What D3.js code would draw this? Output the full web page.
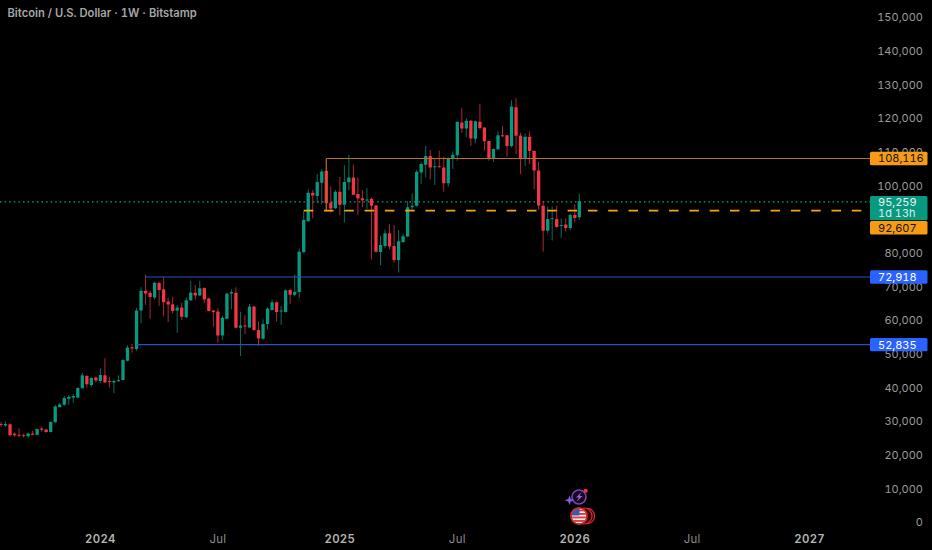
<!DOCTYPE html>
<html><head><meta charset="utf-8">
<script src="https://cdnjs.cloudflare.com/ajax/libs/d3/7.8.5/d3.min.js"></script>
<style>
html,body{margin:0;padding:0;background:#000;overflow:hidden}
svg{display:block}
text{font-family:Inter,"Noto Sans",sans-serif;font-variant-numeric:tabular-nums}
</style></head><body><svg id="c" width="932" height="550"></svg>
<script>
const firstWeek = "2023-07-31";
const lastWeek = "2026-01-12";
const opens = [29.1,28.7,29.0,26.2,25.9,25.8,25.5,26.3,25.9,27.8,27.5,26.7,29.6,34.1,34.8,36.6,37.0,37.0,39.7,43.4,40.7,42.9,41.9,43.6,41.9,41.4,41.8,42.2,47.9,51.9,
51.4,62.8,68.7,68.1,66.7,71.0,69.1,65.5,64.7,62.8,63.7,60.8,65.9,68.1,67.3,69.5,66.4,62.8,62.5,55.4,60.4,67.9,68.1,57.7,58.4,57.8,64.0,57.0,54.4,58.8,63.0,65.3,62.6,62.4,68.9,67.5,
68.3,80.1,89.3,97.8,96.8,100.8,104.3,94.9,93.2,98.1,94.2,100.9,102.3,97.4,96.2,95.6,96.0,94.0,80.2,82.0,85.8,82.0,77.8,83.2,84.8,93.5,
93.9,103.8,106.1,108.7,105.5,105.7,105.3,100.6,107.9,108.9,118.7,116.9,119.2,113.8,118.9,117.2,113.2,108.0,110.7,114.9,114.9,111.7,123.2,114.8,108.1,114.4,110.3,104.4,93.9,86.5,90.0,90.0,88.0,88.4,87.3,91.2,90.5];
const highs = [29.7,29.9,29.3,26.6,27.8,26.3,26.6,27.1,27.8,28.3,27.7,29.9,34.8,35.4,37.4,37.7,38.0,40.0,44.4,43.6,43.0,43.2,45.6,48.6,43.2,42.4,43.6,48.3,52.5,52.9,
63.5,69.7,73.5,68.7,71.4,71.4,72.7,66.7,66.9,64.5,65.1,66.6,71.7,70.4,71.7,69.7,66.6,62.8,63.5,61.2,67.9,69.1,69.7,62.5,61.5,64.8,64.2,59.6,60.2,63.8,66.1,65.5,64.2,69.1,69.3,73.5,
81.3,92.2,98.8,98.6,103.4,104.8,107.9,99.6,98.6,102.4,106.0,109.1,106.1,102.4,98.6,99.2,96.4,94.2,85.0,86.9,88.5,88.2,86.7,85.7,95.4,97.6,
104.6,107.0,111.7,110.5,108.0,110.3,108.5,108.3,110.1,118.9,122.9,119.9,119.4,119.2,124.2,117.2,113.2,111.0,116.2,117.6,114.9,125.3,125.9,115.6,115.4,116.0,110.3,107.0,95.4,93.7,93.7,93.9,90.2,90.2,91.5,94.4,97.6];
const lows = [28.3,28.3,25.5,25.3,25.1,25.1,24.8,25.8,25.8,26.8,26.5,26.6,29.5,34.1,34.5,34.8,35.4,36.7,39.6,39.9,40.2,41.4,41.2,41.2,40.0,38.2,41.7,42.1,47.7,50.3,
50.9,59.0,64.5,60.4,66.1,64.2,61.2,59.4,62.0,56.2,60.0,60.5,65.7,66.1,67.1,65.0,62.5,58.0,53.3,54.1,60.2,63.2,57.5,49.3,55.8,57.6,56.8,52.3,54.3,57.2,62.8,59.6,58.5,62.2,64.8,67.1,
66.5,80.0,89.2,90.2,94.7,94.4,92.2,91.9,92.9,91.1,88.9,98.6,97.0,91.3,93.5,92.9,78.0,80.0,76.3,81.3,81.0,77.0,74.1,82.8,84.6,92.7,
93.7,100.4,102.4,101.8,100.1,105.3,98.1,99.6,104.9,107.3,115.6,114.3,111.7,112.5,116.6,110.3,107.3,107.0,110.5,114.3,108.5,111.3,109.3,103.4,105.7,106.3,98.8,92.7,80.3,85.7,83.6,87.4,84.3,86.3,86.7,89.0,89.7];
const closes = [28.9,29.1,25.8,25.8,25.6,25.6,26.3,25.9,27.6,27.4,26.7,29.7,34.3,34.9,36.8,37.2,37.4,39.8,43.6,40.9,42.8,42.0,43.7,41.4,41.6,41.9,42.2,48.1,51.8,51.5,
62.8,68.7,67.9,66.8,71.1,68.9,65.3,64.6,62.7,63.7,61.0,65.9,68.2,67.3,69.4,66.1,62.7,62.4,55.4,60.7,67.9,68.3,57.7,58.4,58.2,64.0,57.0,54.5,58.8,63.4,65.3,62.4,62.8,68.8,67.5,68.3,
80.3,89.7,97.8,97.0,101.0,104.1,94.7,93.1,98.1,94.2,101.0,102.3,97.2,96.1,95.6,95.8,93.9,80.3,82.3,85.8,81.8,77.8,83.4,84.9,93.5,93.9,
104.0,106.3,108.7,105.3,105.7,105.5,100.6,108.1,109.1,118.9,116.9,119.2,113.9,119.0,117.0,113.1,108.0,110.8,114.9,114.8,111.7,123.4,114.7,108.0,114.4,110.2,104.4,94.0,86.5,90.0,90.2,87.6,88.2,87.3,91.2,90.3,95.259];

const priceTicks = [0,10,20,30,40,50,60,70,80,100,110,120,130,140,150];
const timeTickDates = ["2024-01-01","2024-07-01","2025-01-06","2025-07-07","2026-01-05","2026-07-06","2027-01-04"];
const timeTickLabels = ["2024","Jul","2025","Jul","2026","Jul","2027"];
const timeTickMajor = [true,false,true,false,true,false,true];
const levelValues = [108.116,92.607,72.918,52.835];
const levelLabels = ["108,116","92,607","72,918","52,835"];
const levelStartIdx = [72,67,32,30];
const boxStartValue = 92.607;
const lastPrice = 95.259;
const lastPriceLabel = "95,259";
const countdown = "1d 13h";
const title = "Bitcoin / U.S. Dollar · 1W · Bitstamp";

const plotRight=871;
const parse=d3.utcParse("%Y-%m-%d");
const x=d3.scaleUtc().domain([parse(firstWeek),parse(lastWeek)]).range([1,579.3]);
const y=d3.scaleLinear().domain([0,150]).range([522,17]);
const dateAt=i=>d3.utcWeek.offset(parse(firstWeek),i);
const fmt=d3.format(",");
const BULL="#089981",BEAR="#f23645",ORANGE="#b9701f",DASH="#f7a21b",BLUE="#2a52be",BOX_O="#f79a14",BOX_B="#2962ff";

const svg=d3.select("#c");
const cw=3.3;

const tickColor="#9a9a9a";
svg.append("g").selectAll("text").data(priceTicks).join("text")
 .attr("x",923).attr("y",d=>y(d)+4.4).attr("text-anchor","end")
 .attr("font-size",11).attr("fill",tickColor)
 .text(d=>fmt(d*1000));

svg.append("g").selectAll("text").data(timeTickDates).join("text")
 .attr("x",d=>x(parse(d))).attr("y",543).attr("text-anchor","middle")
 .attr("font-size",11.4).attr("letter-spacing",0.3)
 .attr("font-weight",(d,i)=>timeTickMajor[i]?600:400)
 .attr("fill",(d,i)=>timeTickMajor[i]?"#b4b4b4":"#8c8c8c")
 .text((d,i)=>timeTickLabels[i]);

svg.append("line").attr("x1",0).attr("x2",plotRight).attr("y1",y(lastPrice)+.6).attr("y2",y(lastPrice)+.6)
 .attr("stroke","#12a88d").attr("stroke-width",1.3).attr("stroke-dasharray","1.5 3.1");

const idx=d3.range(opens.length);
const col=i=>closes[i]>=opens[i]?BULL:BEAR;
const g=svg.append("g");
g.selectAll("line").data(idx).join("line")
 .attr("x1",i=>x(dateAt(i))).attr("x2",i=>x(dateAt(i)))
 .attr("y1",i=>y(highs[i])).attr("y2",i=>y(lows[i]))
 .attr("stroke",col).attr("stroke-opacity",.72).attr("stroke-width",1);
g.selectAll("rect").data(idx).join("rect")
 .attr("x",i=>x(dateAt(i))-cw/2).attr("width",cw)
 .attr("y",i=>y(Math.max(opens[i],closes[i])))
 .attr("height",i=>Math.max(1,Math.abs(y(opens[i])-y(closes[i]))))
 .attr("rx",.5).attr("fill",col);

const lineColors=[ORANGE,DASH,BLUE,BLUE];
svg.append("g").selectAll("line").data(levelValues).join("line")
 .attr("x1",(d,i)=>x(dateAt(levelStartIdx[i]))).attr("x2",plotRight)
 .attr("y1",d=>y(d)+.5).attr("y2",d=>y(d)+.5)
 .attr("stroke",(d,i)=>lineColors[i])
 .attr("stroke-width",(d,i)=>i==1?1.8:1.2)
 .attr("stroke-dasharray",(d,i)=>i==1?"9.5 10.8":null);
svg.append("line").attr("x1",x(dateAt(levelStartIdx[0]))).attr("x2",x(dateAt(levelStartIdx[0])))
 .attr("y1",y(levelValues[0])+.5).attr("y2",y(boxStartValue))
 .attr("stroke",ORANGE).attr("stroke-width",1);

const boxX=870,boxW=57.5,boxH=13.4,textX=878;
const labelFill=[BOX_O,BOX_O,BOX_B,BOX_B], labelText=["#141414","#141414","#fff","#fff"];
svg.append("rect").attr("x",boxX).attr("width",boxW).attr("y",y(lastPrice)-5.3).attr("height",24.3).attr("rx",1.5).attr("fill",BULL);
svg.append("text").attr("x",textX).attr("y",y(lastPrice)+4.4).attr("font-size",11).attr("fill","#e8f6f2").text(lastPriceLabel);
svg.append("text").attr("x",textX).attr("y",y(lastPrice)+16).attr("font-size",11).attr("fill","#d5efe8").text(countdown);
const lab=svg.append("g").selectAll("g").data(levelValues).join("g").attr("transform",(d,i)=>`translate(${boxX},${y(d)+(i==1?10.8:-6.2)})`);
lab.append("rect").attr("width",boxW).attr("height",boxH).attr("rx",1.5).attr("fill",(d,i)=>labelFill[i]);
lab.append("text").attr("x",textX-boxX).attr("y",10.6).attr("font-size",11)
 .attr("fill",(d,i)=>labelText[i]).text((d,i)=>levelLabels[i]);

svg.append("text").attr("x",7.5).attr("y",17).attr("font-size",11.2).attr("font-weight",600).attr("fill","#a6a6a6").text(title);

const ic=svg.append("g");
const ix=579,iy1=497;
ic.append("circle").attr("cx",ix).attr("cy",iy1).attr("r",7).attr("fill","#150a22").attr("stroke","#7a45b8").attr("stroke-width",1.6);
ic.append("path").attr("d",`M${ix+2.5} ${iy1-5} L${ix-3} ${iy1+.5} L${ix} ${iy1+.5} L${ix-2.5} ${iy1+5} L${ix+3.5} ${iy1-1} L${ix+.5} ${iy1-1} Z`).attr("fill","#9a62dc");
ic.append("path").attr("d",`M569.5 495.5 L570.8 499 L574.3 500.3 L570.8 501.6 L569.5 505 L568.2 501.6 L564.7 500.3 L568.2 499 Z`).attr("fill","#8a57e8");
ic.append("circle").attr("cx",585.7).attr("cy",490.7).attr("r",2).attr("fill","#f0383c");
ic.append("circle").attr("cx",587).attr("cy",516).attr("r",7.6).attr("fill","#2a0608").attr("stroke","#e0262c").attr("stroke-width",1.2);
ic.append("circle").attr("cx",584).attr("cy",516).attr("r",8).attr("fill","#2a0608").attr("stroke","#e0262c").attr("stroke-width",1.2);
const cp=svg.append("defs").append("clipPath").attr("id","fc");
cp.append("circle").attr("cx",579).attr("cy",516).attr("r",7.4);
const fl=ic.append("g").attr("clip-path","url(#fc)");
fl.append("rect").attr("x",571).attr("y",508).attr("width",16).attr("height",16).attr("fill","#f4f1f1");
[509.5,513,516.5,520,523.5].forEach(v=>fl.append("rect").attr("x",571).attr("y",v).attr("width",16).attr("height",1.9).attr("fill","#e03a44"));
fl.append("rect").attr("x",571).attr("y",508).attr("width",8.5).attr("height",7.5).attr("fill","#3a5aa8");
ic.append("circle").attr("cx",579).attr("cy",516).attr("r",8.2).attr("fill","none").attr("stroke","#e0262c").attr("stroke-width",1.4);
</script></body></html>
